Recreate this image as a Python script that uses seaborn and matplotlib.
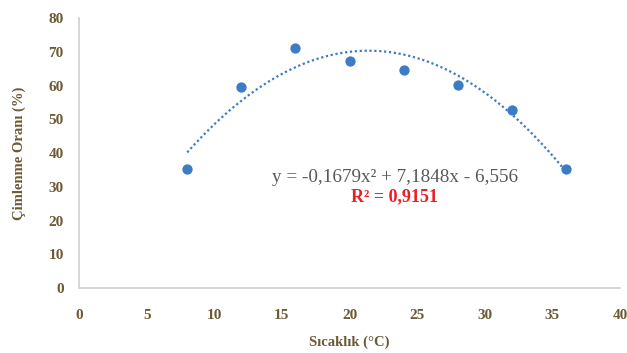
import numpy as np
import pandas as pd
import matplotlib
matplotlib.use("Agg")
import matplotlib.pyplot as plt
import seaborn as sns

sns.set_theme(style="white")
plt.rcParams['font.family'] = ['Liberation Serif', 'DejaVu Serif']

# Data
sicaklik = [8, 12, 16, 20, 24, 28, 32, 36]
cimlenme = [35.2, 59.7, 71.2, 67.3, 64.7, 60.3, 52.7, 35.3]

# Polynomial trendline (order 2) as printed on the chart
coef = [-0.1679, 7.1848, -6.556]
r2 = 0.9151

tick_color = '#6b5a35'
blue = '#3b7cc4'

df = pd.DataFrame({'x': sicaklik, 'y': cimlenme})
xs = np.linspace(min(sicaklik), max(sicaklik), 200)
trend = pd.DataFrame({'x': xs, 'y': np.polyval(coef, xs)})

fig = plt.figure(figsize=(6.27, 3.53), dpi=100)
ax = fig.add_axes([0.126, 0.184, 0.863, 0.765])

sns.lineplot(data=trend, x='x', y='y', ax=ax, color=blue, linestyle=(0, (1, 1.2)),
             linewidth=1.6)
sns.scatterplot(data=df, x='x', y='y', ax=ax, color=blue, s=55, edgecolor=blue,
                linewidth=0, zorder=3)

ax.set_xlim(0, 40)
ax.set_ylim(0, 80)
ax.set_xticks(range(0, 41, 5))
ax.set_yticks(range(0, 81, 10))
ax.tick_params(axis='both', length=0, labelsize=11, labelcolor=tick_color)
ax.tick_params(axis='x', pad=15)
ax.tick_params(axis='y', pad=11)
for lab in ax.get_xticklabels() + ax.get_yticklabels():
    lab.set_fontweight('bold')

for s in ['top', 'right']:
    ax.spines[s].set_visible(False)
for s in ['left', 'bottom']:
    ax.spines[s].set_color('#d0d0d0')
    ax.spines[s].set_linewidth(1.2)

ax.set_xlabel('Sıcaklık (°C)', fontsize=10.5, fontweight='bold', color=tick_color, labelpad=10)
ax.set_ylabel('Çimlenme Oranı (%)', fontsize=10.5, fontweight='bold', color=tick_color, labelpad=16)

ax.text(14.3, 32.8, 'y = -0,1679x² + 7,1848x - 6,556',
        fontsize=13.8, color='#595959', ha='left', va='center')
ax.text(23.3, 27.0, f'R² = {str(r2).replace(".", ",")}', fontsize=13,
        color='#ee1c25', fontweight='bold', ha='center', va='center')

fig.savefig('out.png', dpi=100)
